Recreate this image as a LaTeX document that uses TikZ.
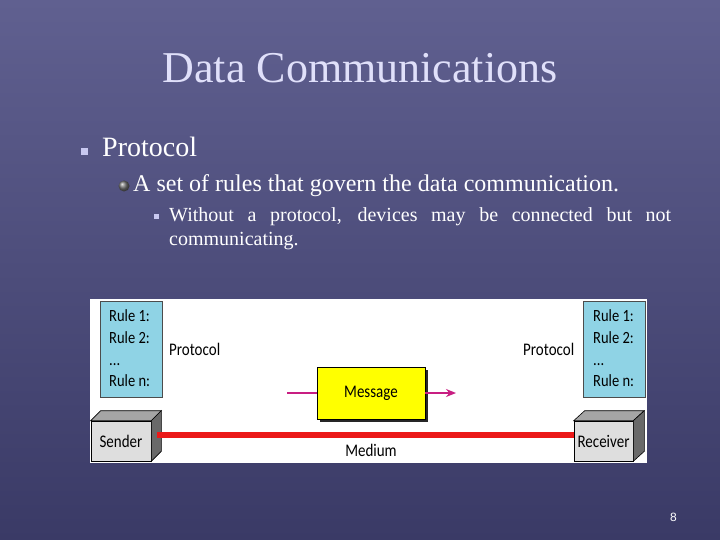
\documentclass[tikz,border=0pt]{standalone}
\usepackage{fontspec}
\usepackage{graphicx}
\setmainfont{Liberation Serif}
\newfontfamily\dfont{Carlito}
\newfontfamily\pfont{Liberation Sans}
\newcommand{\tallt}[1]{\scalebox{1}[1.18]{#1}}
\usetikzlibrary{arrows.meta,shadows}
\definecolor{bgtop}{RGB}{96,96,144}
\definecolor{bgbot}{RGB}{58,58,102}
\definecolor{titlec}{RGB}{224,224,250}
\definecolor{bulc}{RGB}{200,200,240}
\definecolor{rulec}{RGB}{143,211,229}
\definecolor{frontc}{RGB}{222,222,222}
\definecolor{topc}{RGB}{165,165,165}
\definecolor{sidec}{RGB}{105,105,105}
\definecolor{msgc}{RGB}{255,255,0}
\definecolor{magc}{RGB}{200,30,130}
\definecolor{medc}{RGB}{235,25,25}
\begin{document}
\begin{tikzpicture}[x=1pt,y=-1pt,
  txt/.style={inner sep=0pt, anchor=base west, text=white},
  dtxt/.style={inner sep=0pt, anchor=base west, text=black, font=\dfont\fontsize{14.5}{16}\selectfont},
  rulebox/.style={draw=black!70, fill=rulec, line width=0.6pt, inner sep=0pt, minimum width=62pt, minimum height=96pt},
  frontbox/.style={draw=black, fill=frontc, line width=0.6pt, inner sep=0pt, minimum height=40pt, font=\dfont\fontsize{15}{17}\selectfont},
  topface/.style={draw=black, fill=topc, line width=0.6pt},
  sideface/.style={draw=black, fill=sidec, line width=0.6pt},
  msgbox/.style={draw=black, fill=msgc, line width=0.8pt, inner sep=0pt, minimum width=108pt, minimum height=52pt, font=\dfont\fontsize{15}{17}\selectfont,
    drop shadow={shadow xshift=3pt, shadow yshift=-3pt, fill=black!85, opacity=1}},
  msgline/.style={magc, line width=1.6pt},
  mediumline/.style={medc, line width=5.5pt},
  bulsq/.style={fill=bulc, draw=none}
]
\useasboundingbox (0,0) rectangle (720,540);
\shade[top color=bgtop, bottom color=bgbot] (0,0) rectangle (720,540);

% title
\node[anchor=base, inner sep=0pt, text=titlec, font=\fontsize{44}{50}\selectfont] (title) at (360,83) {Data Communications};

% level 1
\fill[bulsq] (80.5,148) rectangle (87.5,155);
\node[txt, font=\fontsize{28}{32}\selectfont] (l1) at (102,157) {Protocol};

% level 2
\shade[ball color=black!55] (124,186) circle (5.5pt);
\node[txt, font=\fontsize{24}{28}\selectfont] (l2) at (133,192) {A set of rules that govern the data communication.};

% level 3
\fill[bulsq] (153.5,214.5) rectangle (158.5,219.5);
\node[txt] (l3) at (169,222) {\parbox[t]{502pt}{\fontsize{20}{23.5}\selectfont\hyphenpenalty=10000\exhyphenpenalty=10000 Without a protocol, devices may be connected but not communicating.}};

% figure panel
\node[fill=white, inner sep=0pt, minimum width=557pt, minimum height=164pt] (panel) at (368.5,381) {};

% rule boxes
\node[rulebox] (rl) at (131,349) {};
\node[dtxt] (rl1) at (109,321) {\tallt{Rule 1:}};
\node[dtxt] (rl2) at (109,343) {\tallt{Rule 2:}};
\node[dtxt] (rl3) at (109,365) {\tallt{...}};
\node[dtxt] (rl4) at (109,386) {\tallt{Rule n:}};
\node[rulebox] (rr) at (614,349) {};
\node[dtxt] (rr1) at (593,321) {\tallt{Rule 1:}};
\node[dtxt] (rr2) at (593,343) {\tallt{Rule 2:}};
\node[dtxt] (rr3) at (593,365) {\tallt{...}};
\node[dtxt] (rr4) at (593,386) {\tallt{Rule n:}};

\node[dtxt, font=\dfont\fontsize{15}{17}\selectfont] (pl) at (169,355) {\tallt{Protocol}};
\node[dtxt, font=\dfont\fontsize{15}{17}\selectfont] (pr) at (523,355) {\tallt{Protocol}};

% sender and receiver boxes
\node[frontbox, minimum width=60pt] (sender) at (121,441) {\tallt{Sender}};
\draw[topface] (sender.north west) -- ++(10,-10) -- ([shift={(10,-10)}]sender.north east) -- (sender.north east) -- cycle;
\draw[sideface] (sender.north east) -- ++(10,-10) -- ([shift={(10,-10)}]sender.south east) -- (sender.south east) -- cycle;
\node[frontbox, minimum width=59pt] (receiver) at (603.5,441) {\tallt{Receiver}};
\draw[topface] (receiver.north west) -- ++(11,-10) -- ([shift={(11,-10)}]receiver.north east) -- (receiver.north east) -- cycle;
\draw[sideface] (receiver.north east) -- ++(11,-10) -- ([shift={(11,-10)}]receiver.south east) -- (receiver.south east) -- cycle;

% medium
\draw[mediumline] ([xshift=6pt,yshift=6pt]sender.east) -- ([yshift=6pt]receiver.west);
\node[anchor=base, inner sep=0pt, text=black, font=\dfont\fontsize{15}{17}\selectfont] (medium) at (371,456) {\tallt{Medium}};

% message
\node[msgbox] (msg) at (371,393) {\tallt{Message}};
\coordinate (ml) at (287,393);
\coordinate (mr) at (456,393);
\draw[msgline] (ml) -- (msg.west);
\draw[msgline, -{Stealth[length=10pt,width=8pt]}] (msg.east) -- (mr);

% page number
\node[txt, font=\pfont\fontsize{12}{14}\selectfont] (pg) at (670,521) {8};
\end{tikzpicture}
\end{document}
